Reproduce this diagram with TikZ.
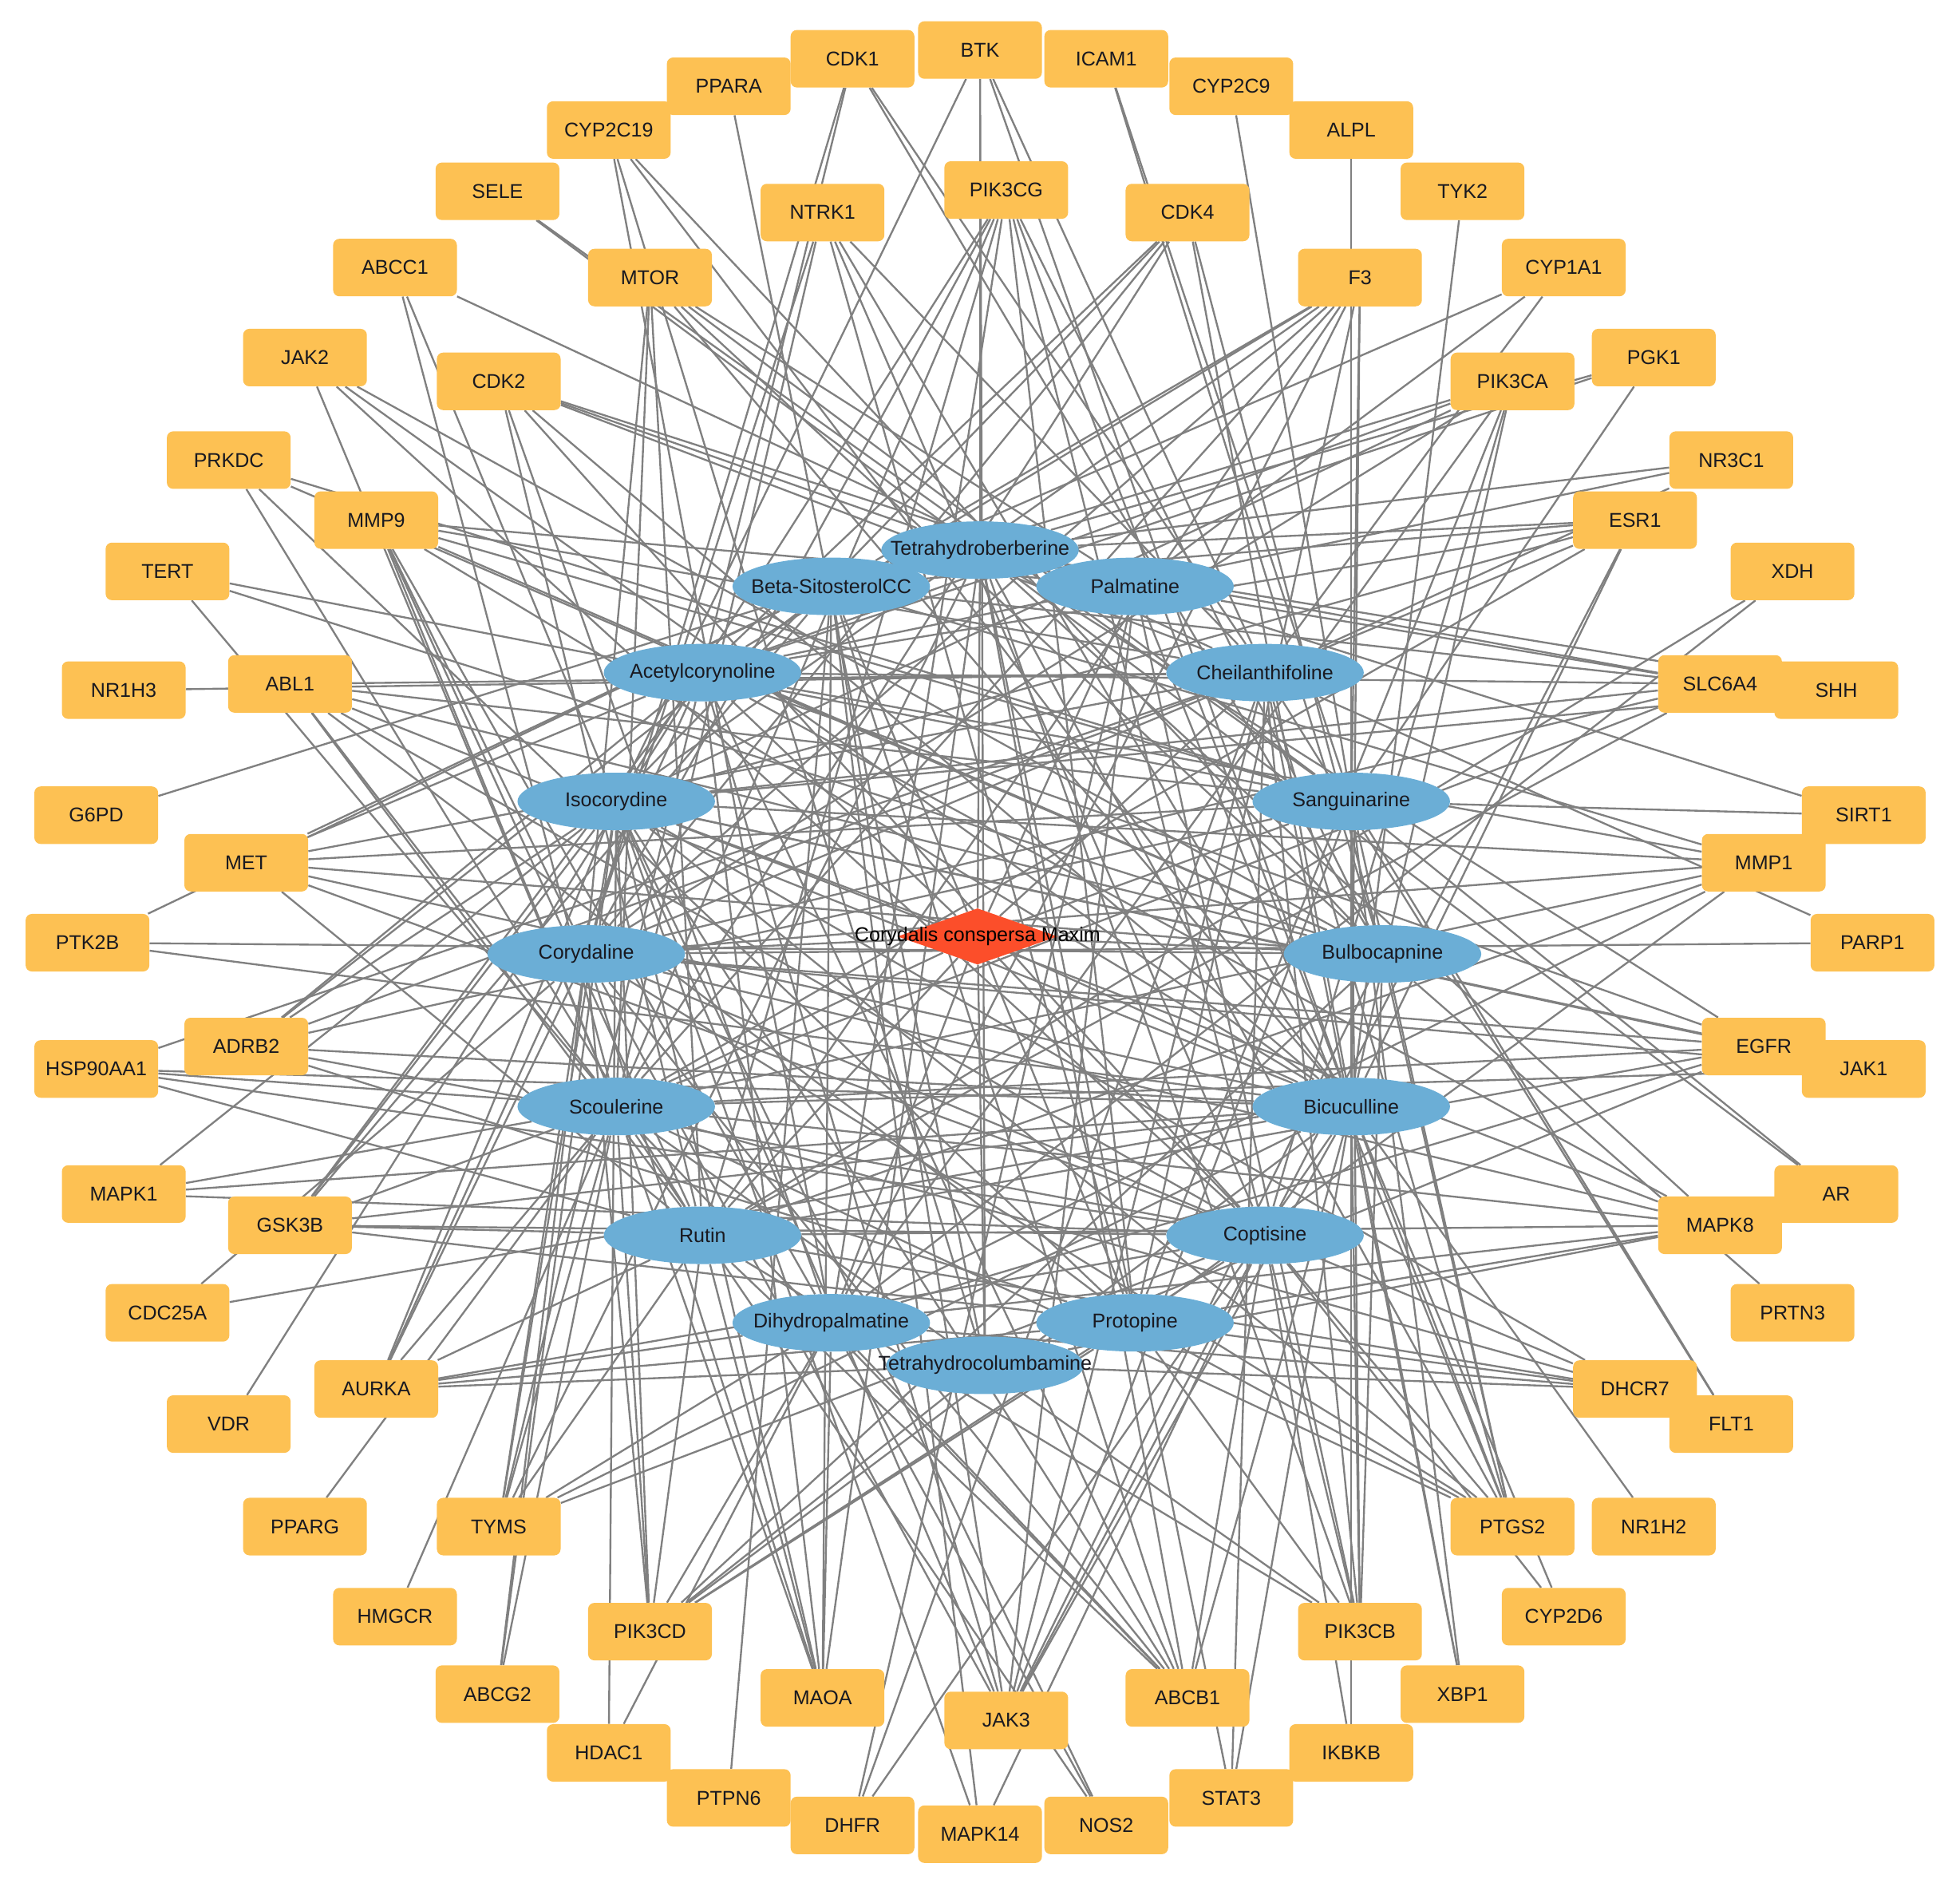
\documentclass[tikz,border=0pt]{standalone}
\usepackage{fontspec}
\setmainfont{Liberation Sans}
\usetikzlibrary{shapes.geometric}
\pgfdeclarelayer{bg}
\pgfsetlayers{bg,main}
\definecolor{tgt}{RGB}{253,193,83}
\definecolor{cpdc}{RGB}{107,174,214}
\definecolor{hubc}{RGB}{252,78,42}
\definecolor{edg}{RGB}{128,128,128}
\definecolor{txt}{RGB}{25,25,32}
\newcommand{\zl}[1]{\makebox[0pt]{#1}}
\begin{document}
\begin{tikzpicture}[x=1pt,y=-1pt,
 tbox/.style={rectangle, rounded corners=5pt, fill=tgt, minimum width=99pt, minimum height=46pt, inner sep=0pt, font=\fontsize{16}{18}\selectfont, text=txt},
 cpdnode/.style={ellipse, fill=cpdc, minimum width=158pt, minimum height=46pt, inner sep=0pt, font=\fontsize{16}{18}\selectfont, text=txt},
 hubs/.style={diamond, fill=hubc, minimum width=128pt, minimum height=45pt, inner sep=0pt},
 hublab/.style={font=\fontsize{16}{18}\selectfont, text=black, inner sep=0pt},
 lnk/.style={draw=edg, line width=1.5pt}]
\useasboundingbox (0,0) rectangle (1568,1509);

% outer ring targets
\node[tbox] (BTK) at (784,40) {BTK};
\node[tbox] (CDK1) at (682,47) {CDK1};
\node[tbox] (ICAM1) at (885,47) {ICAM1};
\node[tbox] (PPARA) at (583,69) {PPARA};
\node[tbox] (CYP2C9) at (985,69) {CYP2C9};
\node[tbox] (CYP2C19) at (487,104) {CYP2C19};
\node[tbox] (ALPL) at (1081,104) {ALPL};
\node[tbox] (SELE) at (398,153) {SELE};
\node[tbox] (TYK2) at (1170,153) {TYK2};
\node[tbox] (ABCC1) at (316,214) {ABCC1};
\node[tbox] (CYP1A1) at (1251,214) {CYP1A1};
\node[tbox] (JAK2) at (244,286) {JAK2};
\node[tbox] (PGK1) at (1323,286) {PGK1};
\node[tbox] (PRKDC) at (183,368) {PRKDC};
\node[tbox] (NR3C1) at (1385,368) {NR3C1};
\node[tbox] (TERT) at (134,457) {TERT};
\node[tbox] (XDH) at (1434,457) {XDH};
\node[tbox] (NR1H3) at (99,552) {NR1H3};
\node[tbox] (SHH) at (1469,552) {SHH};
\node[tbox] (G6PD) at (77,652) {G6PD};
\node[tbox] (SIRT1) at (1491,652) {SIRT1};
\node[tbox] (PTK2B) at (70,754) {PTK2B};
\node[tbox] (PARP1) at (1498,754) {PARP1};
\node[tbox] (HSP90AA1) at (77,855) {HSP90AA1};
\node[tbox] (JAK1) at (1491,855) {JAK1};
\node[tbox] (MAPK1) at (99,955) {MAPK1};
\node[tbox] (AR) at (1469,955) {AR};
\node[tbox] (CDC25A) at (134,1050) {CDC25A};
\node[tbox] (PRTN3) at (1434,1050) {PRTN3};
\node[tbox] (VDR) at (183,1139) {VDR};
\node[tbox] (FLT1) at (1385,1139) {FLT1};
\node[tbox] (PPARG) at (244,1221) {PPARG};
\node[tbox] (NR1H2) at (1323,1221) {NR1H2};
\node[tbox] (HMGCR) at (316,1293) {HMGCR};
\node[tbox] (CYP2D6) at (1251,1293) {CYP2D6};
\node[tbox] (ABCG2) at (398,1355) {ABCG2};
\node[tbox] (XBP1) at (1170,1355) {XBP1};
\node[tbox] (HDAC1) at (487,1402) {HDAC1};
\node[tbox] (IKBKB) at (1081,1402) {IKBKB};
\node[tbox] (PTPN6) at (583,1438) {PTPN6};
\node[tbox] (STAT3) at (985,1438) {STAT3};
\node[tbox] (DHFR) at (682,1460) {DHFR};
\node[tbox] (NOS2) at (885,1460) {NOS2};
\node[tbox] (MAPK14) at (784,1467) {MAPK14};

% inner ring targets
\node[tbox] (PIK3CG) at (805,152) {PIK3CG};
\node[tbox] (NTRK1) at (658,170) {NTRK1};
\node[tbox] (CDK4) at (950,170) {CDK4};
\node[tbox] (MTOR) at (520,222) {MTOR};
\node[tbox] (F3) at (1088,222) {F3};
\node[tbox] (CDK2) at (399,305) {CDK2};
\node[tbox] (PIK3CA) at (1210,305) {PIK3CA};
\node[tbox] (MMP9) at (301,416) {MMP9};
\node[tbox] (ESR1) at (1308,416) {ESR1};
\node[tbox] (ABL1) at (232,547) {ABL1};
\node[tbox] (SLC6A4) at (1376,547) {SLC6A4};
\node[tbox] (MET) at (197,690) {MET};
\node[tbox] (MMP1) at (1411,690) {MMP1};
\node[tbox] (ADRB2) at (197,837) {ADRB2};
\node[tbox] (EGFR) at (1411,837) {EGFR};
\node[tbox] (GSK3B) at (232,980) {GSK3B};
\node[tbox] (MAPK8) at (1376,980) {MAPK8};
\node[tbox] (AURKA) at (301,1111) {AURKA};
\node[tbox] (DHCR7) at (1308,1111) {DHCR7};
\node[tbox] (TYMS) at (399,1221) {TYMS};
\node[tbox] (PTGS2) at (1210,1221) {PTGS2};
\node[tbox] (PIK3CD) at (520,1305) {PIK3CD};
\node[tbox] (PIK3CB) at (1088,1305) {PIK3CB};
\node[tbox] (MAOA) at (658,1358) {MAOA};
\node[tbox] (ABCB1) at (950,1358) {ABCB1};
\node[tbox] (JAK3) at (805,1376) {JAK3};

% compounds
\node[cpdnode] (THB) at (784,440) {\zl{Tetrahydroberberine}};
\node[cpdnode] (BS) at (665,469) {\zl{Beta-SitosterolCC}};
\node[cpdnode] (PAL) at (908,469) {\zl{Palmatine}};
\node[cpdnode] (ACE) at (562,538) {\zl{Acetylcorynoline}};
\node[cpdnode] (CHE) at (1012,538) {\zl{Cheilanthifoline}};
\node[cpdnode] (ISO) at (493,641) {\zl{Isocorydine}};
\node[cpdnode] (SAN) at (1081,641) {\zl{Sanguinarine}};
\node[cpdnode] (COR) at (469,763) {\zl{Corydaline}};
\node[cpdnode] (BUL) at (1106,763) {\zl{Bulbocapnine}};
\node[cpdnode] (SCO) at (493,885) {\zl{Scoulerine}};
\node[cpdnode] (BIC) at (1081,885) {\zl{Bicuculline}};
\node[cpdnode] (RUT) at (562,988) {\zl{Rutin}};
\node[cpdnode] (COP) at (1012,988) {\zl{Coptisine}};
\node[cpdnode] (THC) at (788,1092) {\zl{Tetrahydrocolumbamine}};
\node[cpdnode] (DIH) at (665,1058) {\zl{Dihydropalmatine}};
\node[cpdnode] (PRO) at (908,1058) {\zl{Protopine}};

% hub
\node[hubs] (hub) at (782,749) {};
\node[hublab] (hubtext) at (hub.center) {Corydalis conspersa Maxim};

\begin{pgfonlayer}{bg}
\foreach \c in {THB,BS,PAL,ACE,CHE,ISO,SAN,COR,BUL,SCO,BIC,RUT,COP,THC,DIH,PRO} \draw[lnk] (hub) -- (\c);
\foreach \c in {ISO,THB,THC,CHE,BIC} \draw[lnk] (BTK) -- (\c);
\foreach \c in {ACE,COR,CHE,BUL} \draw[lnk] (CDK1) -- (\c);
\foreach \c in {SAN,BUL} \draw[lnk] (ICAM1) -- (\c);
\foreach \c in {THC} \draw[lnk] (PPARA) -- (\c);
\foreach \c in {SAN} \draw[lnk] (CYP2C9) -- (\c);
\foreach \c in {DIH,BIC,BUL,THC} \draw[lnk] (CYP2C19) -- (\c);
\foreach \c in {BIC} \draw[lnk] (ALPL) -- (\c);
\foreach \c in {THB,SAN} \draw[lnk] (SELE) -- (\c);
\foreach \c in {BIC} \draw[lnk] (TYK2) -- (\c);
\foreach \c in {CHE,SCO,ISO} \draw[lnk] (ABCC1) -- (\c);
\foreach \c in {PAL,BS,CHE} \draw[lnk] (CYP1A1) -- (\c);
\foreach \c in {BIC,COP,SCO,BUL} \draw[lnk] (JAK2) -- (\c);
\foreach \c in {SAN,THB,ACE} \draw[lnk] (PGK1) -- (\c);
\foreach \c in {BUL,PRO,RUT,SAN} \draw[lnk] (PRKDC) -- (\c);
\foreach \c in {THB,ACE,CHE} \draw[lnk] (NR3C1) -- (\c);
\foreach \c in {SCO,BUL,SAN} \draw[lnk] (TERT) -- (\c);
\foreach \c in {RUT,DIH} \draw[lnk] (XDH) -- (\c);
\foreach \c in {CHE} \draw[lnk] (NR1H3) -- (\c);
\foreach \c in {THB,ISO} \draw[lnk] (SHH) -- (\c);
\foreach \c in {BS} \draw[lnk] (G6PD) -- (\c);
\foreach \c in {SAN,PAL} \draw[lnk] (SIRT1) -- (\c);
\foreach \c in {BUL,BIC,BS} \draw[lnk] (PTK2B) -- (\c);
\foreach \c in {COR,CHE} \draw[lnk] (PARP1) -- (\c);
\foreach \c in {CHE,SCO,BIC,COP,RUT} \draw[lnk] (HSP90AA1) -- (\c);
\foreach \c in {ISO,SCO,COR} \draw[lnk] (JAK1) -- (\c);
\foreach \c in {ISO,BIC,COP,SCO} \draw[lnk] (MAPK1) -- (\c);
\foreach \c in {THB,SAN} \draw[lnk] (AR) -- (\c);
\foreach \c in {COR,BIC} \draw[lnk] (CDC25A) -- (\c);
\foreach \c in {BUL} \draw[lnk] (PRTN3) -- (\c);
\foreach \c in {ACE} \draw[lnk] (VDR) -- (\c);
\foreach \c in {SAN,CHE} \draw[lnk] (FLT1) -- (\c);
\foreach \c in {SCO} \draw[lnk] (PPARG) -- (\c);
\foreach \c in {BIC} \draw[lnk] (NR1H2) -- (\c);
\foreach \c in {SCO} \draw[lnk] (HMGCR) -- (\c);
\foreach \c in {COP,BIC} \draw[lnk] (CYP2D6) -- (\c);
\foreach \c in {ISO,COR,SCO} \draw[lnk] (ABCG2) -- (\c);
\foreach \c in {BIC,CHE,SAN} \draw[lnk] (XBP1) -- (\c);
\foreach \c in {ISO,DIH} \draw[lnk] (HDAC1) -- (\c);
\foreach \c in {BIC,SAN,COP} \draw[lnk] (IKBKB) -- (\c);
\foreach \c in {BS} \draw[lnk] (PTPN6) -- (\c);
\foreach \c in {CHE,THB,BIC} \draw[lnk] (STAT3) -- (\c);
\foreach \c in {PAL,BIC,CHE} \draw[lnk] (DHFR) -- (\c);
\foreach \c in {SCO,ISO,DIH} \draw[lnk] (NOS2) -- (\c);
\foreach \c in {COP,BS,ISO} \draw[lnk] (MAPK14) -- (\c);
\foreach \c in {ISO,COR,SCO,RUT,DIH,BIC,BUL,COP,PRO} \draw[lnk] (PIK3CG) -- (\c);
\foreach \c in {SCO,COR,COP,PRO,BIC,CHE} \draw[lnk] (NTRK1) -- (\c);
\foreach \c in {ACE,ISO,COR,SCO,BIC,BUL} \draw[lnk] (CDK4) -- (\c);
\foreach \c in {COR,SCO,SAN,BUL,BIC,PAL,RUT} \draw[lnk] (MTOR) -- (\c);
\foreach \c in {BS,ACE,ISO,COR,SCO,RUT,DIH,SAN,BIC,PRO} \draw[lnk] (F3) -- (\c);
\foreach \c in {PAL,CHE,THB,DIH,RUT,BIC,COP} \draw[lnk] (CDK2) -- (\c);
\foreach \c in {BS,ACE,ISO,COR,BIC,COP,PRO,DIH} \draw[lnk] (PIK3CA) -- (\c);
\foreach \c in {PAL,CHE,SAN,BUL,BIC,SCO,RUT,COR,DIH} \draw[lnk] (MMP9) -- (\c);
\foreach \c in {THB,BS,ACE,ISO,COR,SCO,COP,BIC} \draw[lnk] (ESR1) -- (\c);
\foreach \c in {CHE,SAN,BUL,BIC,COP,PRO,RUT,SCO} \draw[lnk] (ABL1) -- (\c);
\foreach \c in {PAL,THB,BS,ACE,ISO,COR,SCO,RUT} \draw[lnk] (SLC6A4) -- (\c);
\foreach \c in {BS,ACE,CHE,SAN,BUL,BIC,COP,RUT} \draw[lnk] (MET) -- (\c);
\foreach \c in {BS,ACE,ISO,COR,SCO,RUT,DIH,PRO} \draw[lnk] (MMP1) -- (\c);
\foreach \c in {ACE,ISO,BS,CHE,SAN,BIC,COP,PRO} \draw[lnk] (ADRB2) -- (\c);
\foreach \c in {ACE,ISO,COR,SCO,RUT,DIH,THB,THC} \draw[lnk] (EGFR) -- (\c);
\foreach \c in {ISO,ACE,BS,SCO,RUT,BIC,COP,PRO} \draw[lnk] (GSK3B) -- (\c);
\foreach \c in {COR,ISO,ACE,THB,SCO,RUT,DIH,THC,PRO} \draw[lnk] (MAPK8) -- (\c);
\foreach \c in {ISO,ACE,COR,SCO,RUT,DIH,THC,PRO,COP} \draw[lnk] (AURKA) -- (\c);
\foreach \c in {THC,DIH,RUT,SCO,PRO,COR,ISO} \draw[lnk] (DHCR7) -- (\c);
\foreach \c in {ISO,COR,SCO,RUT,DIH,ACE,BIC,COP,THB} \draw[lnk] (TYMS) -- (\c);
\foreach \c in {SAN,BUL,BIC,COP,CHE,PAL,THB,PRO,ISO,COR,SCO} \draw[lnk] (PTGS2) -- (\c);
\foreach \c in {SCO,RUT,DIH,COR,ISO,THC,PRO,COP,BIC,BUL} \draw[lnk] (PIK3CD) -- (\c);
\foreach \c in {BIC,BUL,SAN,CHE,COP,PRO,THB,PAL,SCO,RUT} \draw[lnk] (PIK3CB) -- (\c);
\foreach \c in {ISO,ACE,COR,SCO,RUT,DIH,BS,THB} \draw[lnk] (MAOA) -- (\c);
\foreach \c in {SCO,RUT,COR,ISO,DIH,THB,BS,ACE,COP,BIC} \draw[lnk] (ABCB1) -- (\c);
\foreach \c in {ACE,BS,ISO,COR,PAL,CHE,BUL,SAN,BIC,COP} \draw[lnk] (JAK3) -- (\c);
\end{pgfonlayer}
\end{tikzpicture}
\end{document}
